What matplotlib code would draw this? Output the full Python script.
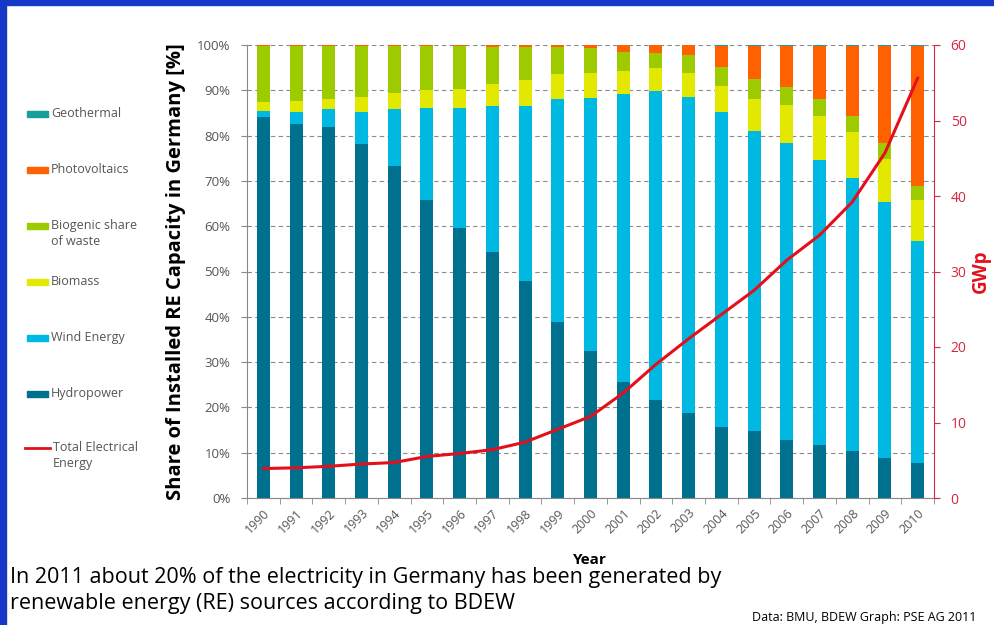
import numpy as np
import matplotlib
matplotlib.use("Agg")
import matplotlib.pyplot as plt
from matplotlib.patches import Rectangle
from matplotlib.lines import Line2D

plt.rcParams['font.family'] = ['Open Sans', 'DejaVu Sans']

# Share of installed RE capacity in Germany [%], stacked bottom -> top
years = [str(y) for y in range(1990, 2011)]
hydro = [84.2, 82.6, 81.8, 78.1, 73.3, 65.8, 59.6, 54.4, 48.0, 38.9, 32.4,
         25.5, 21.6, 18.7, 15.7, 14.9, 12.8, 11.8, 10.4, 8.9, 7.8]
wind = [1.2, 2.7, 4.0, 7.0, 12.5, 20.4, 26.4, 32.1, 38.5, 49.1, 56.0,
        63.7, 68.3, 69.9, 69.4, 66.1, 65.5, 62.8, 60.3, 56.4, 49.0]
biomass = [2.1, 2.4, 2.2, 3.5, 3.7, 3.9, 4.3, 5.0, 5.8, 5.5, 5.5,
           5.1, 5.0, 5.2, 5.9, 7.1, 8.5, 9.7, 10.0, 9.5, 9.0]
biogenic = [12.3, 12.1, 11.8, 11.2, 10.3, 9.7, 9.4, 8.1, 7.3, 6.0, 5.4,
            4.2, 3.4, 4.0, 4.2, 4.5, 3.9, 3.7, 3.6, 3.5, 3.0]
pv = [0.2, 0.2, 0.2, 0.2, 0.2, 0.2, 0.3, 0.4, 0.4, 0.5, 0.7,
      1.5, 1.7, 2.2, 4.6, 7.2, 9.1, 11.8, 15.5, 21.5, 31.0]
geothermal = [0.0, 0.0, 0.0, 0.0, 0.0, 0.0, 0.0, 0.0, 0.0, 0.0, 0.0,
              0.0, 0.0, 0.0, 0.2, 0.2, 0.2, 0.2, 0.2, 0.2, 0.2]
# total installed RE capacity [GWp]
total_gw = [3.9, 4.0, 4.2, 4.5, 4.7, 5.5, 5.9, 6.4, 7.4, 9.1, 10.8,
            13.9, 17.7, 21.1, 24.3, 27.5, 31.5, 34.8, 39.2, 45.7, 55.6]

series = [
    ("Hydropower", hydro, "#00708f"),
    ("Wind Energy", wind, "#00b9e3"),
    ("Biomass", biomass, "#e3e800"),
    ("Biogenic share\nof waste", biogenic, "#9ecb00"),
    ("Photovoltaics", pv, "#ff6100"),
    ("Geothermal", geothermal, "#17a099"),
]
red = "#e3101c"
axis_red = "#d9263f"
grey_txt = "#555555"
frame_blue = "#1538c6"

fig = plt.figure(figsize=(9.95, 6.25), dpi=100)
fig.patch.set_facecolor("white")

# blue slide frame on top and left
fig.patches.append(Rectangle((0, 1 - 5 / 625), 1, 5 / 625, transform=fig.transFigure,
                             color=frame_blue, zorder=0))
fig.patches.append(Rectangle((0, 0), 6 / 995, 1, transform=fig.transFigure,
                             color=frame_blue, zorder=0))

ax = fig.add_axes([247 / 995, 1 - 498 / 625, 687 / 995, 453 / 625])
x = np.arange(len(years))
bottom = np.zeros(len(years))
for name, vals, col in series:
    ax.bar(x, vals, width=0.4, bottom=bottom, color=col, zorder=2)
    bottom += np.array(vals)

ax.set_xlim(-0.5, len(years) - 0.5)
ax.set_ylim(0, 100)
ax.set_yticks(np.arange(0, 101, 10))
ax.set_yticklabels([f"{v}%" for v in range(0, 101, 10)])
ax.set_xticks(x)
ax.set_xticklabels(years, rotation=45, ha="right", va="top", rotation_mode="anchor")
ax.set_xticks(np.arange(-0.5, len(years)), minor=True)
ax.tick_params(axis="x", which="major", length=0, pad=6, labelsize=9, labelcolor=grey_txt)
ax.tick_params(axis="x", which="minor", length=4, color="#888888")
ax.tick_params(axis="y", length=4, color="#888888", pad=8, labelsize=9.5, labelcolor=grey_txt)
ax.yaxis.grid(True, linestyle=(0, (4, 3)), color="#8a8a8a", linewidth=0.8, zorder=1)
ax.set_axisbelow(True)
for s in ["top", "right"]:
    ax.spines[s].set_visible(False)
for s in ["left", "bottom"]:
    ax.spines[s].set_color("#888888")
ax.set_ylabel("Share of Installed RE Capacity in Germany [%]", fontsize=14.5,
              fontweight="bold", color="black", labelpad=8)

# total capacity on secondary axis
ax2 = ax.twinx()
ax2.plot(x, total_gw, color=red, linewidth=2.2, zorder=5)
ax2.set_ylim(0, 60)
ax2.set_yticks(np.arange(0, 61, 10))
ax2.tick_params(axis="y", colors=axis_red, length=4, pad=8, labelsize=10)
for s in ["top", "left", "bottom"]:
    ax2.spines[s].set_visible(False)
ax2.spines["right"].set_color(axis_red)
ax2.set_ylabel("GWp", color=red, fontsize=13.5, fontweight="bold", labelpad=3)

fig.text(590 / 995, 1 - 560 / 625, "Year", ha="center", va="center",
         fontsize=11, fontweight="bold", color="black")

# legend on the left, top entry first
legend_items = list(reversed(series))
for i, (name, vals, col) in enumerate(legend_items):
    yc = 1 - (114 + 56 * i) / 625
    fig.patches.append(Rectangle((27 / 995, yc - 3 / 625), 21 / 995, 6 / 625,
                                 transform=fig.transFigure, color=col))
    fig.text(51 / 995, yc + 7 / 625, name, ha="left", va="top", fontsize=9,
             color=grey_txt, linespacing=1.35)
yc = 1 - 448 / 625
fig.lines.append(Line2D([25 / 995, 50 / 995], [yc, yc], transform=fig.transFigure,
                        color=red, linewidth=2))
fig.text(53 / 995, yc + 7 / 625, "Total Electrical\nEnergy", ha="left", va="top",
         fontsize=9, color=grey_txt, linespacing=1.35)

fig.text(10 / 995, 1 - 577 / 625,
         "In 2011 about 20% of the electricity in Germany has been generated by",
         ha="left", va="center", fontsize=15.5, color="black")
fig.text(10 / 995, 1 - 604 / 625, "renewable energy (RE) sources according to BDEW",
         ha="left", va="center", fontsize=15.5, color="black")
fig.text(752 / 995, 1 - 617 / 625, "Data: BMU, BDEW Graph: PSE AG 2011",
         ha="left", va="center", fontsize=9, color="black")

fig.savefig("out.png", dpi=100, facecolor=fig.get_facecolor())
